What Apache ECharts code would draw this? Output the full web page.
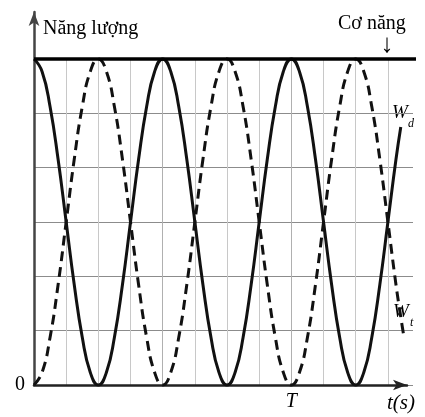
<!DOCTYPE html>
<html>
<head>
<meta charset="utf-8">
<script src="https://cdn.jsdelivr.net/npm/echarts@6/dist/echarts.min.js"></script>
<style>
  html, body { margin: 0; padding: 0; background: #fff; }
  #chart { width: 425px; height: 417px; }
</style>
</head>
<body>
<div id="chart"></div>
<script>
// Time measured in grid steps (one step = T/8), energy in grid rows (6 rows = mechanical energy)
const timeSteps = [
  0, 0.25, 0.5, 0.75, 1, 1.25, 1.5, 1.75, 2, 2.25, 2.5, 2.75, 3, 3.25, 3.5, 3.75,
  4, 4.25, 4.5, 4.75, 5, 5.25, 5.5, 5.75, 6, 6.25, 6.5, 6.75, 7, 7.25, 7.5, 7.75,
  8, 8.25, 8.5, 8.75, 9, 9.25, 9.5, 9.75, 10, 10.25, 10.5, 10.75, 11, 11.25, 11.4, 11.5
];
// Kinetic energy W_d (solid)
const kineticEnergy = [
  6, 5.77, 5.12, 4.15, 3, 1.85, 0.88, 0.23, 0, 0.23, 0.88, 1.85, 3, 4.15, 5.12, 5.77,
  6, 5.77, 5.12, 4.15, 3, 1.85, 0.88, 0.23, 0, 0.23, 0.88, 1.85, 3, 4.15, 5.12, 5.77,
  6, 5.77, 5.12, 4.15, 3, 1.85, 0.88, 0.23, 0, 0.23, 0.88, 1.85, 3, 4.15, 4.75, null
];
// Potential energy W_t (dashed)
const potentialEnergy = [
  0, 0.23, 0.88, 1.85, 3, 4.15, 5.12, 5.77, 6, 5.77, 5.12, 4.15, 3, 1.85, 0.88, 0.23,
  0, 0.23, 0.88, 1.85, 3, 4.15, 5.12, 5.77, 6, 5.77, 5.12, 4.15, 3, 1.85, 0.88, 0.23,
  0, 0.23, 0.88, 1.85, 3, 4.15, 5.12, 5.77, 6, 5.77, 5.12, 4.15, 3, 1.85, 1.25, 0.88
];
// Mechanical energy (constant)
const mechanicalTime = [0, 12];
const mechanicalEnergy = [6, 6];

// Tick labels
const xTickLabels = { 8: 'T' };
const yTickLabels = { 0: '0' };

const SERIF = '"Liberation Serif", "Times New Roman", serif';

const zip = (xs, ys) => xs.map((x, i) => [x, ys[i]]);

const chart = echarts.init(document.getElementById('chart'), null, { renderer: 'canvas' });

// vertical grid colours (a couple of lines slightly darker)
const vColors = ['#c8c8c8','#c8c8c8','#c8c8c8','#c8c8c8','#b0b0b0','#c8c8c8',
                 '#c8c8c8','#c8c8c8','#b0b0b0','#c8c8c8','#c8c8c8','#c8c8c8'];

chart.setOption({
  animation: false,
  backgroundColor: '#fff',
  grid: [
    // axes with arrows
    { left: 34, right: 18, top: 12, bottom: 32, outerBoundsMode: 'none' },
    // plotting area with grid lines
    { left: 34, right: 12, top: 59, bottom: 32, outerBoundsMode: 'none' }
  ],
  xAxis: [
    {
      gridIndex: 0, type: 'value', min: 0, max: 11.59,
      axisLine: { show: true, onZero: true, symbol: ['none', 'arrow'], symbolSize: [8, 14],
        lineStyle: { color: '#222', width: 2.5 } },
      axisTick: { show: false }, axisLabel: { show: false }, splitLine: { show: false }
    },
    {
      gridIndex: 1, type: 'value', min: 0, max: 11.78, interval: 1,
      axisLine: { show: false }, axisTick: { show: false },
      axisLabel: {
        show: true, margin: 7, color: '#000', fontFamily: SERIF, fontSize: 20, fontStyle: 'italic',
        formatter: v => xTickLabels[v] || ''
      },
      splitLine: { show: true, showMaxLine: false, lineStyle: { color: vColors, width: 1 } }
    }
  ],
  yAxis: [
    {
      gridIndex: 0, type: 'value', min: 0, max: 6.87,
      axisLine: { show: true, onZero: true, symbol: ['none', 'arrow'], symbolSize: [8, 14],
        lineStyle: { color: '#444', width: 2.5 } },
      axisTick: { show: false }, axisLabel: { show: false }, splitLine: { show: false }
    },
    {
      gridIndex: 1, type: 'value', min: 0, max: 6, interval: 1,
      axisLine: { show: false }, axisTick: { show: false },
      axisLabel: {
        show: true, margin: 9, color: '#000', fontFamily: SERIF, fontSize: 20,
        formatter: v => yTickLabels[v] || ''
      },
      splitLine: { show: true, lineStyle: { color: '#8c8c8c', width: 1 } }
    }
  ],
  series: [
    {
      name: 'Wd', type: 'line', xAxisIndex: 1, yAxisIndex: 1, clip: false,
      data: zip(timeSteps, kineticEnergy), smooth: true, showSymbol: false,
      lineStyle: { color: '#111', width: 3 }, z: 3
    },
    {
      name: 'Wt', type: 'line', xAxisIndex: 1, yAxisIndex: 1, clip: false,
      data: zip(timeSteps, potentialEnergy), smooth: true, showSymbol: false,
      lineStyle: { color: '#111', width: 3, type: [10, 6] }, z: 3
    },
    {
      name: 'Cơ năng', type: 'line', xAxisIndex: 1, yAxisIndex: 1, clip: false,
      data: zip(mechanicalTime, mechanicalEnergy), showSymbol: false,
      lineStyle: { color: '#000', width: 3.5 }, z: 4
    }
  ],
  graphic: [
    { type: 'text', style: { text: 'Năng lượng', x: 43, y: 29, font: '20px ' + SERIF, fill: '#000', align: 'left', verticalAlign: 'middle' } },
    { type: 'text', style: { text: 'Cơ năng', x: 338, y: 24, font: '20px ' + SERIF, fill: '#000', align: 'left', verticalAlign: 'middle' } },
    { type: 'text', style: { text: '↓', x: 387, y: 45, font: '26px ' + SERIF, fill: '#000', align: 'center', verticalAlign: 'middle' } },
    { type: 'text', style: { text: 'W', x: 392, y: 113, font: 'italic 19px ' + SERIF, fill: '#000', align: 'left', verticalAlign: 'middle' } },
    { type: 'text', style: { text: 'd', x: 408, y: 124, font: 'italic 12px ' + SERIF, fill: '#000', align: 'left', verticalAlign: 'middle' } },
    { type: 'text', style: { text: 'W', x: 393, y: 312, font: 'italic 19px ' + SERIF, fill: '#000', align: 'left', verticalAlign: 'middle' } },
    { type: 'text', style: { text: 't', x: 410, y: 323, font: 'italic 12px ' + SERIF, fill: '#000', align: 'left', verticalAlign: 'middle' } },
    { type: 'text', style: { text: 't(s)', x: 387, y: 403, font: 'italic 21px ' + SERIF, fill: '#000', align: 'left', verticalAlign: 'middle' } }
  ]
});
</script>
</body>
</html>
